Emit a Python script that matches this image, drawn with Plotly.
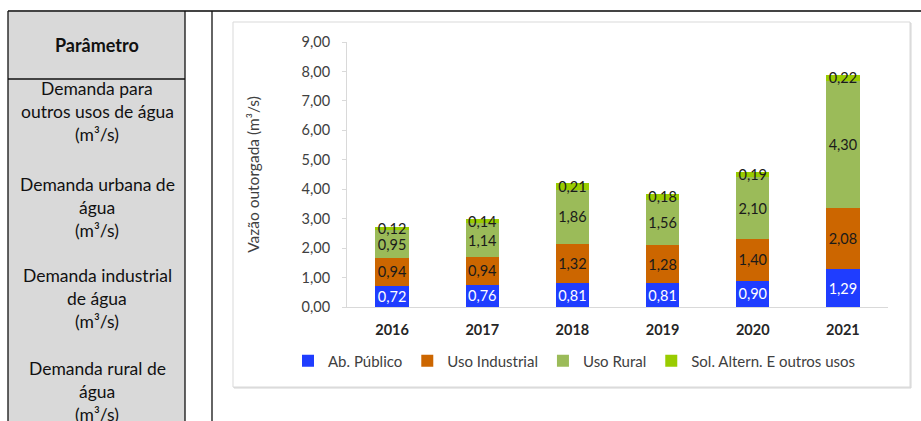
import plotly.graph_objects as go

years = ["2016", "2017", "2018", "2019", "2020", "2021"]
ab_publico = [0.72, 0.76, 0.81, 0.81, 0.90, 1.29]
uso_industrial = [0.94, 0.94, 1.32, 1.28, 1.40, 2.08]
uso_rural = [0.95, 1.14, 1.86, 1.56, 2.10, 4.30]
sol_altern = [0.12, 0.14, 0.21, 0.18, 0.19, 0.22]

series_names = ["Ab. Público", "Uso Industrial", "Uso Rural", "Sol. Altern. E outros usos"]
series_values = [ab_publico, uso_industrial, uso_rural, sol_altern]
series_colors = ["#1F3DFF", "#CC6600", "#9BBB59", "#99CC00"]
label_colors = ["#FFFFFF", "#1A1A1A", "#1A1A1A", "#1A1A1A"]

table_header = "Parâmetro"
table_rows = [
    ["Demanda para", "outros usos de água", "(m³/s)"],
    ["Demanda urbana de", "água", "(m³/s)"],
    ["Demanda industrial", "de água", "(m³/s)"],
    ["Demanda rural de", "água", "(m³/s)"],
]

W, H = 921, 421
PL, PR, PT, PB = 347, 888, 42, 307  # plot area in pixels
FONT = "Lato, 'Open Sans', sans-serif"


def px(x):
    return (x - PL) / (PR - PL)


def py(y):
    return (PB - y) / (PB - PT)


fig = go.Figure()
for name, vals, col, lc in zip(series_names, series_values, series_colors, label_colors):
    fig.add_trace(go.Bar(
        x=years, y=vals, name=name,
        marker=dict(color=col, line=dict(width=0)),
        texttemplate="%{y:.2f}", textposition="inside", insidetextanchor="middle",
        constraintext="none", textangle=0,
        textfont=dict(color=lc, size=14.5, family=FONT),
    ))

shapes = []
# chart box with faint shadow
shapes.append(dict(type="rect", xref="paper", yref="paper", layer="below",
                   x0=px(234), x1=px(911), y0=py(23), y1=py(388),
                   line=dict(color="#D4D4D4", width=1), fillcolor="#E6E6E6"))
shapes.append(dict(type="rect", xref="paper", yref="paper", layer="below",
                   x0=px(233), x1=px(910), y0=py(22), y1=py(387),
                   line=dict(color="#D9D9D9", width=1), fillcolor="#FFFFFF"))
# table
shapes.append(dict(type="rect", xref="paper", yref="paper", layer="below",
                   x0=px(8), x1=px(185), y0=py(11), y1=py(430),
                   line=dict(width=0), fillcolor="#D9D9D9"))
line_style = dict(color="#111111", width=1.3)
shapes.append(dict(type="line", xref="paper", yref="paper", layer="above",
                   x0=px(8), x1=px(921), y0=py(11), y1=py(11), line=dict(color="#444444", width=2)))
for xv in (8, 185, 212):
    shapes.append(dict(type="line", xref="paper", yref="paper", layer="above",
                       x0=px(xv), x1=px(xv), y0=py(11), y1=py(430), line=line_style))
shapes.append(dict(type="line", xref="paper", yref="paper", layer="above",
                   x0=px(8), x1=px(185), y0=py(79), y1=py(79), line=line_style))

annotations = [dict(xref="paper", yref="paper", x=px(97), y=py(45), text="<b>" + table_header + "</b>",
                    showarrow=False, font=dict(family=FONT, size=18, color="#111111"),
                    xanchor="center", yanchor="middle")]
row_tops = [88, 184, 275, 368]
for top, lines in zip(row_tops, table_rows):
    for i, t in enumerate(lines):
        annotations.append(dict(xref="paper", yref="paper", x=px(97), y=py(top + 23 * i), text=t,
                                showarrow=False, font=dict(family=FONT, size=17.5, color="#111111"),
                                xanchor="center", yanchor="middle"))

fig.update_layout(
    width=W, height=H,
    margin=dict(l=PL, r=W - PR, t=PT, b=H - PB, pad=0),
    barmode="stack", bargap=0.63,
    paper_bgcolor="#FFFFFF", plot_bgcolor="rgba(0,0,0,0)",
    separators=",.",
    font=dict(family=FONT, size=14.5, color="#404040"),
    shapes=shapes, annotations=annotations,
    showlegend=True,
    legend=dict(orientation="h", x=px(288), xanchor="left",
                y=py(361), yanchor="middle",
                font=dict(family=FONT, size=15, color="#404040"), bgcolor="rgba(0,0,0,0)",
                traceorder="normal"),
    xaxis=dict(showline=True, linecolor="#D9D9D9", linewidth=1, showgrid=False, ticks="",
               tickfont=dict(family=FONT, size=14.5, color="#262626", weight="bold"),
               ticklabelstandoff=10),
    yaxis=dict(range=[0, 9], dtick=1, tickformat=".2f", showline=True, linecolor="#D9D9D9",
               showgrid=False, zeroline=False, ticks="outside", ticklen=4, tickcolor="#D9D9D9",
               tickfont=dict(family=FONT, size=14.5, color="#404040"), ticklabelstandoff=9,
               title=dict(text="Vazão outorgada (m³/s)", font=dict(family=FONT, size=15.5, color="#404040"),
                          standoff=38)),
)

fig.write_html("out.html", config={"displayModeBar": False},
               post_script="document.body.style.margin='0';document.body.style.padding='0';")
